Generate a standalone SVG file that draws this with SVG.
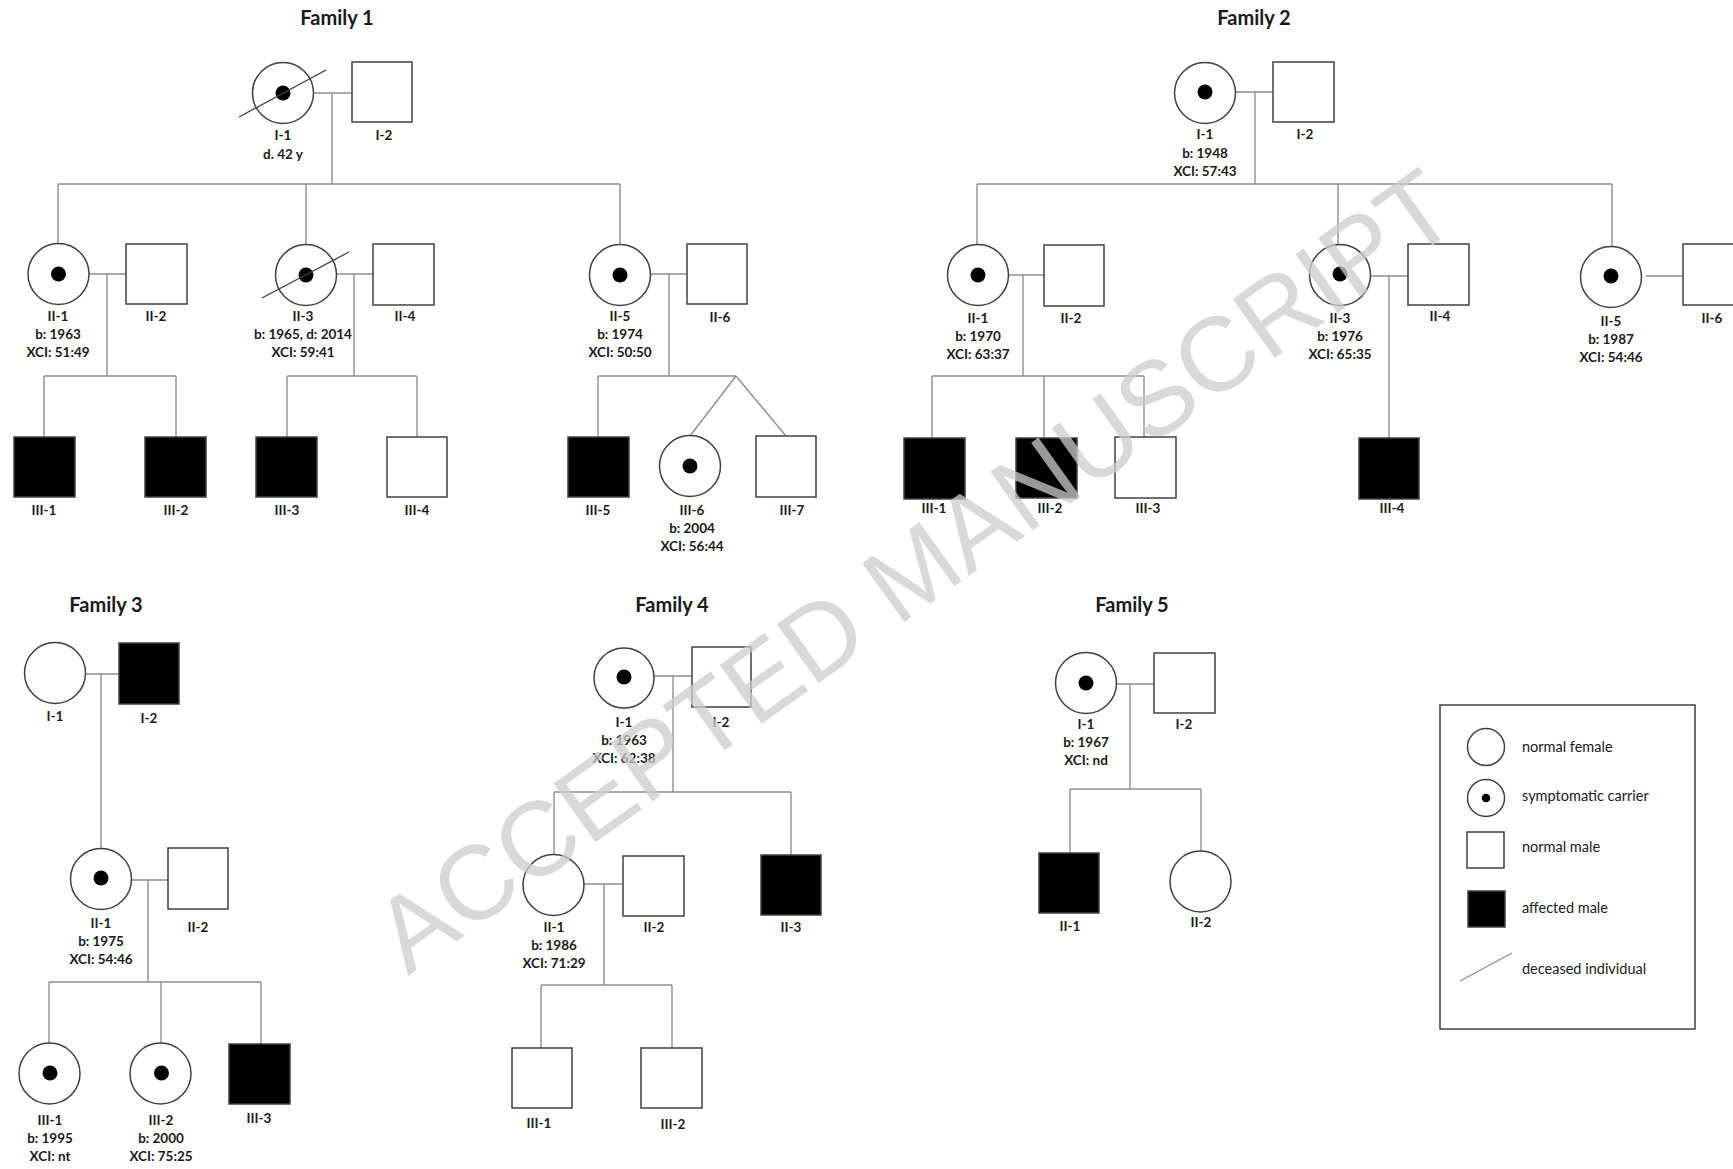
<svg xmlns="http://www.w3.org/2000/svg" width="1733" height="1169" viewBox="0 0 1733 1169">
<style>
.bg{fill:#ffffff}
.fe{fill:#ffffff;stroke:#404040;stroke-width:1.5}
.ma{fill:#ffffff;stroke:#404040;stroke-width:1.5}
.af{fill:#000000;stroke:#404040;stroke-width:1.5}
.dot{fill:#000000}
.dec{stroke:#404040;stroke-width:1.3;fill:none}
.ln{stroke:#8f8f8f;stroke-width:1.4;fill:none}
.lb{font-family:Lato,"Liberation Sans",sans-serif;font-weight:bold;font-size:13.5px;fill:#1a1a1a;text-anchor:middle}
.tt{font-family:Lato,"Liberation Sans",sans-serif;font-weight:bold;font-size:20px;fill:#1a1a1a;text-anchor:middle}
.lg{font-family:Lato,"Liberation Sans",sans-serif;font-size:14.5px;fill:#1a1a1a}
.box{fill:none;stroke:#404040;stroke-width:1.5}
.wm{font-family:"Liberation Sans",Arial,sans-serif;font-size:105px;fill:#cccccc;fill-opacity:0.75}
</style>
<rect class="bg" x="0" y="0" width="1733" height="1169"/>

<g id="connectors">
<!-- Family 1 -->
<path class="ln" d="M313,93H352M332,93V184M58,184H620M58,184V244M306,184V245M620,184V244"/>
<path class="ln" d="M89,274H126M107,274V376M44,376H176M44,376V437M176,376V437"/>
<path class="ln" d="M336,274H373M354,274V376M287,376H417M287,376V437M417,376V437"/>
<path class="ln" d="M650,274H687M669,274V376M598,376H736M598,376V437M736,376L690,436M736,376L786,436"/>
<!-- Family 2 -->
<path class="ln" d="M1235,92H1273M1255,92V184M977,184H1612M977,184V245M1338,184V244M1612,184V247"/>
<path class="ln" d="M1008,275H1044M1023,275V376M932,376H1144M932,376V438M1044,376V438M1144,376V437"/>
<path class="ln" d="M1370,276H1408M1389,276V438"/>
<path class="ln" d="M1646,276H1683"/>
<!-- Family 3 -->
<path class="ln" d="M85,674H119M101,674V849"/>
<path class="ln" d="M131,880H168M148,880V982M49,982H261M49,982V1043M161,982V1043M261,982V1044"/>
<!-- Family 4 -->
<path class="ln" d="M654,676H692M673,676V792M554,792H791M554,792V855M791,792V855"/>
<path class="ln" d="M584,884H623M604,884V985M541,985H672M541,985V1048M672,985V1048"/>
<!-- Family 5 -->
<path class="ln" d="M1117,684H1154M1130,684V789M1070,789H1201M1070,789V853M1201,789V851"/>
</g>

<!-- Titles -->
<text class="tt" x="337" y="25">Family 1</text>
<text class="tt" x="1254" y="25">Family 2</text>
<text class="tt" x="106" y="612">Family 3</text>
<text class="tt" x="672" y="612">Family 4</text>
<text class="tt" x="1132" y="612">Family 5</text>

<!-- Family 1 nodes -->
<g id="f1-I-1"><circle class="fe" cx="283" cy="93" r="30.5"/><circle class="dot" cx="283" cy="93" r="7.5"/><line class="dec" x1="239" y1="117" x2="326" y2="70"/><text class="lb" x="283" y="140">I-1</text><text class="lb" x="283" y="159">d. 42 y</text></g>
<g id="f1-I-2"><rect class="ma" x="352" y="62" width="60" height="60"/><text class="lb" x="384" y="140">I-2</text></g>
<g id="f1-II-1"><circle class="fe" cx="58.5" cy="274" r="30.5"/><circle class="dot" cx="58.5" cy="274" r="7.5"/><text class="lb" x="58" y="321">II-1</text><text class="lb" x="58" y="339">b: 1963</text><text class="lb" x="58" y="357">XCI: 51:49</text></g>
<g id="f1-II-2"><rect class="ma" x="126" y="244" width="61" height="60"/><text class="lb" x="156" y="321">II-2</text></g>
<g id="f1-II-3"><circle class="fe" cx="306" cy="275" r="30.5"/><circle class="dot" cx="306" cy="275" r="7.5"/><line class="dec" x1="262" y1="298" x2="349" y2="252"/><text class="lb" x="303" y="321">II-3</text><text class="lb" x="303" y="339">b: 1965, d: 2014</text><text class="lb" x="303" y="357">XCI: 59:41</text></g>
<g id="f1-II-4"><rect class="ma" x="373" y="244" width="61" height="61"/><text class="lb" x="405" y="321">II-4</text></g>
<g id="f1-II-5"><circle class="fe" cx="620" cy="275" r="30.5"/><circle class="dot" cx="620" cy="275" r="7.5"/><text class="lb" x="620" y="321">II-5</text><text class="lb" x="620" y="339">b: 1974</text><text class="lb" x="620" y="357">XCI: 50:50</text></g>
<g id="f1-II-6"><rect class="ma" x="687" y="244" width="60" height="60"/><text class="lb" x="720" y="322">II-6</text></g>
<g id="f1-III-1"><rect class="af" x="14" y="437" width="61" height="60"/><text class="lb" x="44" y="515">III-1</text></g>
<g id="f1-III-2"><rect class="af" x="145" y="437" width="61" height="60"/><text class="lb" x="176" y="515">III-2</text></g>
<g id="f1-III-3"><rect class="af" x="256" y="437" width="61" height="60"/><text class="lb" x="287" y="515">III-3</text></g>
<g id="f1-III-4"><rect class="ma" x="387" y="437" width="60" height="60"/><text class="lb" x="417" y="515">III-4</text></g>
<g id="f1-III-5"><rect class="af" x="568" y="437" width="61" height="60"/><text class="lb" x="598" y="515">III-5</text></g>
<g id="f1-III-6"><circle class="fe" cx="690" cy="466" r="30.5"/><circle class="dot" cx="690" cy="466" r="7.5"/><text class="lb" x="692" y="515">III-6</text><text class="lb" x="692" y="533">b: 2004</text><text class="lb" x="692" y="551">XCI: 56:44</text></g>
<g id="f1-III-7"><rect class="ma" x="756" y="436" width="60" height="61"/><text class="lb" x="792" y="515">III-7</text></g>

<!-- Family 2 nodes -->
<g id="f2-I-1"><circle class="fe" cx="1205" cy="93" r="30.5"/><circle class="dot" cx="1205" cy="92" r="7.5"/><text class="lb" x="1205" y="139">I-1</text><text class="lb" x="1205" y="158">b: 1948</text><text class="lb" x="1205" y="176">XCI: 57:43</text></g>
<g id="f2-I-2"><rect class="ma" x="1273" y="62" width="61" height="60"/><text class="lb" x="1305" y="139">I-2</text></g>
<g id="f2-II-1"><circle class="fe" cx="978" cy="275" r="30.5"/><circle class="dot" cx="978" cy="275" r="7.5"/><text class="lb" x="978" y="323">II-1</text><text class="lb" x="978" y="341">b: 1970</text><text class="lb" x="978" y="359">XCI: 63:37</text></g>
<g id="f2-II-2"><rect class="ma" x="1044" y="245" width="60" height="61"/><text class="lb" x="1071" y="323">II-2</text></g>
<g id="f2-II-3"><circle class="fe" cx="1340" cy="275" r="30.5"/><circle class="dot" cx="1340" cy="274" r="7.5"/><text class="lb" x="1340" y="323">II-3</text><text class="lb" x="1340" y="341">b: 1976</text><text class="lb" x="1340" y="359">XCI: 65:35</text></g>
<g id="f2-II-4"><rect class="ma" x="1408" y="244" width="61" height="61"/><text class="lb" x="1440" y="321">II-4</text></g>
<g id="f2-II-5"><circle class="fe" cx="1611" cy="277" r="30.5"/><circle class="dot" cx="1611" cy="276" r="7.5"/><text class="lb" x="1611" y="326">II-5</text><text class="lb" x="1611" y="344">b: 1987</text><text class="lb" x="1611" y="362">XCI: 54:46</text></g>
<g id="f2-II-6"><rect class="ma" x="1683" y="244" width="61" height="61"/><text class="lb" x="1712" y="323">II-6</text></g>
<g id="f2-III-1"><rect class="af" x="904" y="438" width="61" height="61"/><text class="lb" x="934" y="513">III-1</text></g>
<g id="f2-III-2"><rect class="af" x="1016" y="438" width="61" height="60"/><text class="lb" x="1050" y="513">III-2</text></g>
<g id="f2-III-3"><rect class="ma" x="1115" y="437" width="61" height="61"/><text class="lb" x="1148" y="513">III-3</text></g>
<g id="f2-III-4"><rect class="af" x="1359" y="438" width="60" height="61"/><text class="lb" x="1392" y="513">III-4</text></g>

<!-- Family 3 nodes -->
<g id="f3-I-1"><circle class="fe" cx="55" cy="673" r="30.5"/><text class="lb" x="55" y="721">I-1</text></g>
<g id="f3-I-2"><rect class="af" x="119" y="643" width="60" height="61"/><text class="lb" x="149" y="723">I-2</text></g>
<g id="f3-II-1"><circle class="fe" cx="101" cy="879" r="30.5"/><circle class="dot" cx="101" cy="878" r="7.5"/><text class="lb" x="101" y="928">II-1</text><text class="lb" x="101" y="946">b: 1975</text><text class="lb" x="101" y="964">XCI: 54:46</text></g>
<g id="f3-II-2"><rect class="ma" x="168" y="848" width="60" height="61"/><text class="lb" x="198" y="932">II-2</text></g>
<g id="f3-III-1"><circle class="fe" cx="49.5" cy="1073.5" r="30.5"/><circle class="dot" cx="50" cy="1073" r="7.5"/><text class="lb" x="50" y="1125">III-1</text><text class="lb" x="50" y="1143">b: 1995</text><text class="lb" x="50" y="1161">XCI: nt</text></g>
<g id="f3-III-2"><circle class="fe" cx="160.5" cy="1073.5" r="30.5"/><circle class="dot" cx="161.5" cy="1073" r="7.5"/><text class="lb" x="161" y="1125">III-2</text><text class="lb" x="161" y="1143">b: 2000</text><text class="lb" x="161" y="1161">XCI: 75:25</text></g>
<g id="f3-III-3"><rect class="af" x="229" y="1044" width="61" height="60"/><text class="lb" x="259" y="1123">III-3</text></g>

<!-- Family 4 nodes -->
<g id="f4-I-1"><circle class="fe" cx="624" cy="678" r="30"/><circle class="dot" cx="624" cy="677" r="7.5"/><text class="lb" x="624" y="727">I-1</text><text class="lb" x="624" y="745">b: 1963</text><text class="lb" x="624" y="763">XCI: 62:38</text></g>
<g id="f4-I-2"><rect class="ma" x="692" y="647" width="59" height="60"/><text class="lb" x="721" y="727">I-2</text></g>
<g id="f4-II-1"><circle class="fe" cx="553.5" cy="885" r="30.5"/><text class="lb" x="554" y="932">II-1</text><text class="lb" x="554" y="950">b: 1986</text><text class="lb" x="554" y="968">XCI: 71:29</text></g>
<g id="f4-II-2"><rect class="ma" x="623" y="856" width="61" height="60"/><text class="lb" x="654" y="932">II-2</text></g>
<g id="f4-II-3"><rect class="af" x="761" y="855" width="60" height="60"/><text class="lb" x="791" y="932">II-3</text></g>
<g id="f4-III-1"><rect class="ma" x="512" y="1048" width="60" height="60"/><text class="lb" x="539" y="1128">III-1</text></g>
<g id="f4-III-2"><rect class="ma" x="641" y="1048" width="61" height="60"/><text class="lb" x="673" y="1129">III-2</text></g>

<!-- Family 5 nodes -->
<g id="f5-I-1"><circle class="fe" cx="1086" cy="683" r="30.5"/><circle class="dot" cx="1086" cy="683" r="7.5"/><text class="lb" x="1086" y="729">I-1</text><text class="lb" x="1086" y="747">b: 1967</text><text class="lb" x="1086" y="765">XCI: nd</text></g>
<g id="f5-I-2"><rect class="ma" x="1154" y="653" width="61" height="60"/><text class="lb" x="1184" y="729">I-2</text></g>
<g id="f5-II-1"><rect class="af" x="1039" y="853" width="60" height="60"/><text class="lb" x="1070" y="931">II-1</text></g>
<g id="f5-II-2"><circle class="fe" cx="1200.5" cy="881.5" r="30.5"/><text class="lb" x="1201" y="927">II-2</text></g>

<!-- Legend -->
<g id="legend">
<rect class="box" x="1440" y="705" width="255" height="324"/>
<circle class="fe" cx="1486" cy="747" r="18.5"/>
<text class="lg" x="1522" y="752">normal female</text>
<circle class="fe" cx="1486" cy="798" r="18.5"/>
<circle class="dot" cx="1486" cy="798" r="4.3"/>
<text class="lg" x="1522" y="801">symptomatic carrier</text>
<rect class="ma" x="1467" y="832" width="37" height="36"/>
<text class="lg" x="1522" y="852">normal male</text>
<rect class="af" x="1468" y="891" width="37" height="36"/>
<text class="lg" x="1522" y="913">affected male</text>
<line class="ln" x1="1460" y1="981" x2="1512" y2="953"/>
<text class="lg" x="1522" y="974">deceased individual</text>
</g>

<!-- Watermark -->
<text class="wm" transform="translate(408,976) rotate(-35.5)">ACCEPTED MANUSCRIPT</text>
</svg>
